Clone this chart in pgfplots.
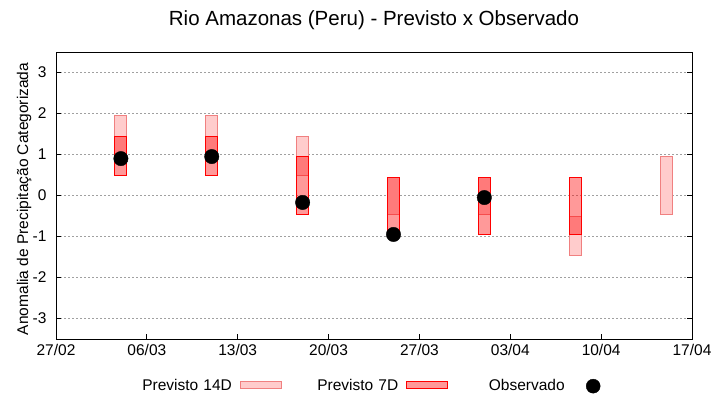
\documentclass[border=0pt]{standalone}
\usepackage{fontspec}
\setmainfont{Liberation Sans}
\usepackage{pgfplots}
\pgfplotsset{compat=1.18}

\definecolor{pink14}{RGB}{255,204,204}
\definecolor{edge14}{RGB}{240,128,128}
\definecolor{gridgray}{RGB}{160,160,160}

\newcommand{\lbl}{\fontsize{15.5}{18}\selectfont}

\begin{document}
\begin{tikzpicture}
\useasboundingbox (0,0) rectangle (720pt,400pt);
\begin{axis}[
  at={(56pt,61pt)}, anchor=south west,
  scale only axis, width=636pt, height=287pt,
  xmin=0, xmax=49, ymin=-3.5, ymax=3.5,
  xtick={0,7,...,49},
  xticklabels={27/02,06/03,13/03,20/03,27/03,03/04,10/04,17/04},
  ytick={-3,...,3},
  xtick pos=bottom, ytick pos=both,
  tick align=inside, major tick length=5pt,
  tick style={black, line width=0.9pt},
  axis line style={line width=1pt},
  /pgf/number format/assume math mode=true,
  ticklabel style={font=\lbl},
  xticklabel style={yshift=-2pt},
  yticklabel style={xshift=-6pt},
  ymajorgrids,
  major grid style={gridgray, line width=0.8pt, dash pattern=on 2pt off 2pt},
  title={Rio Amazonas (Peru) - Previsto x Observado},
  title style={font=\fontsize{20.5}{24}\selectfont, at={(0.5,1.0906)}, anchor=center},
  ylabel={Anomalia de Precipitação Categorizada},
  ylabel style={font=\lbl, at={(axis description cs:-0.05,0.488)}, anchor=center},
  legend columns=3,
  legend plot pos=right,
  legend style={at={(0.506,-0.164)}, anchor=center, draw=none, fill=none,
    font=\lbl, column sep=8pt,
    nodes={inner sep=0pt, text width=90pt, align=right},
    /tikz/every even column/.append style={column sep=26.5pt}},
]

% Previsto 14D
\addplot[draw=edge14, fill=pink14, line width=0.9pt, forget plot] coordinates {(4.54,0.95) (5.46,0.95) (5.46,1.95) (4.54,1.95)} -- cycle;
\addplot[draw=edge14, fill=pink14, line width=0.9pt, forget plot] coordinates {(11.54,0.95) (12.46,0.95) (12.46,1.95) (11.54,1.95)} -- cycle;
\addplot[draw=edge14, fill=pink14, line width=0.9pt, forget plot] coordinates {(18.54,0.5) (19.46,0.5) (19.46,1.45) (18.54,1.45)} -- cycle;
\addplot[draw=edge14, fill=pink14, line width=0.9pt, forget plot] coordinates {(25.54,-0.45) (26.46,-0.45) (26.46,0.45) (25.54,0.45)} -- cycle;
\addplot[draw=edge14, fill=pink14, line width=0.9pt, forget plot] coordinates {(32.54,-0.45) (33.46,-0.45) (33.46,0.45) (32.54,0.45)} -- cycle;
\addplot[draw=edge14, fill=pink14, line width=0.9pt, forget plot] coordinates {(39.54,-1.45) (40.46,-1.45) (40.46,-0.5) (39.54,-0.5)} -- cycle;
\addplot[draw=edge14, fill=pink14, line width=0.9pt, forget plot] coordinates {(46.54,-0.45) (47.46,-0.45) (47.46,0.95) (46.54,0.95)} -- cycle;

% Previsto 7D
\addplot[draw=red, fill=red, fill opacity=0.4, line width=0.9pt, forget plot] coordinates {(4.54,0.5) (5.46,0.5) (5.46,1.45) (4.54,1.45)} -- cycle;
\addplot[draw=red, fill=red, fill opacity=0.4, line width=0.9pt, forget plot] coordinates {(11.54,0.5) (12.46,0.5) (12.46,1.45) (11.54,1.45)} -- cycle;
\addplot[draw=red, fill=red, fill opacity=0.4, line width=0.9pt, forget plot] coordinates {(18.54,-0.45) (19.46,-0.45) (19.46,0.95) (18.54,0.95)} -- cycle;
\addplot[draw=red, fill=red, fill opacity=0.4, line width=0.9pt, forget plot] coordinates {(25.54,-0.95) (26.46,-0.95) (26.46,0.45) (25.54,0.45)} -- cycle;
\addplot[draw=red, fill=red, fill opacity=0.4, line width=0.9pt, forget plot] coordinates {(32.54,-0.95) (33.46,-0.95) (33.46,0.45) (32.54,0.45)} -- cycle;
\addplot[draw=red, fill=red, fill opacity=0.4, line width=0.9pt, forget plot] coordinates {(39.54,-0.95) (40.46,-0.95) (40.46,0.45) (39.54,0.45)} -- cycle;

% Observado
\addplot[only marks, mark=*, mark size=7.2pt, black, forget plot] coordinates {
  (5,0.9) (12,0.95) (19,-0.17) (26,-0.95) (33,-0.05)
};

\addlegendimage{legend image code/.code={\draw[draw=edge14, fill=pink14, line width=0.9pt] (0pt,-3.5pt) rectangle (41pt,3.5pt);}}
\addlegendentry{Previsto 14D}
\addlegendimage{legend image code/.code={\draw[draw=red, fill=red, fill opacity=0.4, line width=0.9pt] (0pt,-3.5pt) rectangle (41pt,3.5pt);}}
\addlegendentry{Previsto 7D}
\addlegendimage{legend image code/.code={\path[draw=none] (0pt,0pt) -- (41pt,0pt); \fill[black] (20.5pt,-1pt) circle (7pt);}}
\addlegendentry{Observado}
\end{axis}
\end{tikzpicture}
\end{document}
